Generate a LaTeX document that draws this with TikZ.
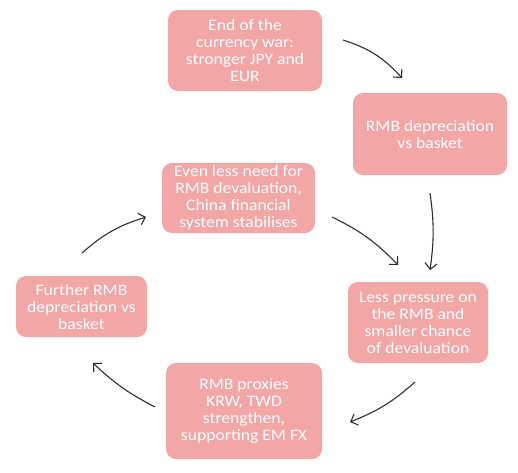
\documentclass[tikz,border=0pt]{standalone}
\usepackage{fontspec}
\setmainfont[FakeStretch=1.1]{Carlito}
\usetikzlibrary{arrows.meta}
\definecolor{boxpink}{RGB}{242,166,166}
\definecolor{arrowgray}{RGB}{45,45,45}
\tikzset{
  box/.style={fill=boxpink, draw=none, rounded corners=10pt, text=white,
    align=center, inner sep=2pt,
    font=\fontsize{16}{17}\selectfont},
  cyc/.style={draw=arrowgray, line width=1.1pt,
    -{Straight Barb[length=6pt,width=12pt,line width=1.1pt]}}
}
\begin{document}
\begin{tikzpicture}[x=1pt,y=-1pt]
\useasboundingbox (0,0) rectangle (518,472);
\fill[white] (0,0) rectangle (518,472);

\node[box, minimum width=154pt, minimum height=81pt] (b1) at (245,50.5)
  {End of the\\currency war:\\stronger JPY and\\EUR};
\node[box, minimum width=154pt, minimum height=82pt] (b2) at (430,134)
  {RMB depreciation\\vs basket};
\node[box, minimum width=153pt, minimum height=70pt] (b3) at (238.5,198)
  {Even less need for\\RMB devaluation,\\China financial\\system stabilises};
\node[box, minimum width=131pt, minimum height=61pt] (b4) at (81.5,306.5)
  {Further RMB\\depreciation vs\\basket};
\node[box, minimum width=156pt, minimum height=96pt] (b5) at (244,411)
  {RMB proxies\\KRW, TWD\\strengthen,\\supporting EM FX};
\node[box, minimum width=140pt, minimum height=81pt] (b6) at (418,322.5)
  {Less pressure on\\the RMB and\\smaller chance\\of devaluation};

\coordinate (a1s) at (343,40);  \coordinate (a1e) at (402,78);
\coordinate (a2s) at (430,193); \coordinate (a2e) at (430,270);
\coordinate (a3s) at (332,217); \coordinate (a3e) at (398,265);
\coordinate (a4s) at (415,382); \coordinate (a4e) at (350,422);
\coordinate (a5s) at (155,407); \coordinate (a5e) at (93,363);
\coordinate (a6s) at (82,253);  \coordinate (a6e) at (146,217);

\draw[cyc] (a1s) to[bend left=15] (a1e);
\draw[cyc] (a2s) to[bend left=8] (a2e);
\draw[cyc] (a3s) to[bend left=10] (a3e);
\draw[cyc] (a4s) to[bend left=10] (a4e);
\draw[cyc] (a5s) to[bend left=8] (a5e);
\draw[cyc] (a6s) to[bend left=12] (a6e);
\end{tikzpicture}
\end{document}
